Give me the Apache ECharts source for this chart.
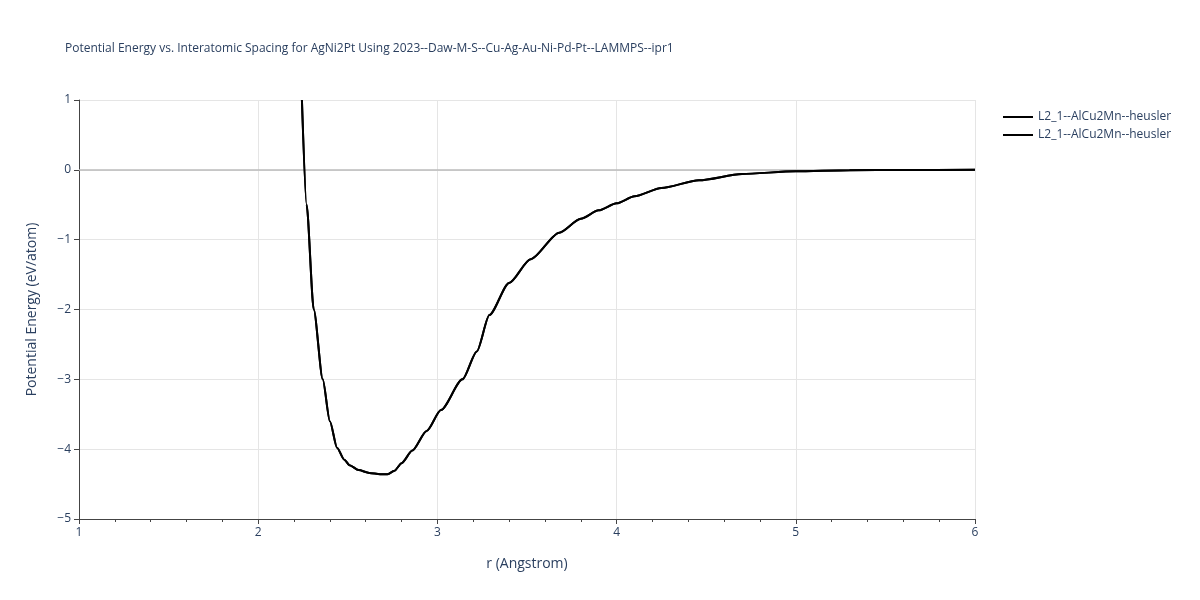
<!DOCTYPE html><html><head><meta charset="utf-8"><script src="https://cdn.jsdelivr.net/npm/echarts@6/dist/echarts.min.js"></script></head><body style="margin:0"><div id="c" style="width:1200px;height:600px"></div><script>
const rVals=[2.244,2.27,2.31,2.36,2.40,2.44,2.48,2.51,2.56,2.62,2.68,2.72,2.76,2.80,2.86,2.94,3.02,3.14,3.22,3.29,3.40,3.52,3.68,3.80,3.90,4.00,4.10,4.25,4.46,4.70,5.00,5.30,5.60,6.00];
const eVals=[1.0,-0.5,-2.0,-3.0,-3.6,-3.98,-4.15,-4.23,-4.30,-4.34,-4.36,-4.36,-4.31,-4.20,-4.02,-3.74,-3.44,-3.00,-2.60,-2.08,-1.62,-1.28,-0.90,-0.70,-0.58,-0.48,-0.38,-0.26,-0.15,-0.06,-0.02,-0.005,-0.001,0];
const seriesNames=['L2_1--AlCu2Mn--heusler','L2_1--AlCu2Mn--heusler\u200b'];
const data=rVals.map((r,i)=>[r,eVals[i]]);
const font='"Open Sans", sans-serif';
echarts.init(document.getElementById('c')).setOption({
animation:false,
title:{text:'Potential Energy vs. Interatomic Spacing for AgNi2Pt Using 2023--Daw-M-S--Cu-Ag-Au-Ni-Pd-Pt--LAMMPS--ipr1',left:60,top:38,textStyle:{fontSize:12,fontWeight:'normal',color:'#2a3f5f',fontFamily:font}},
legend:{orient:'vertical',left:998,top:106,itemWidth:30,itemGap:6,textStyle:{fontSize:12,color:'#2a3f5f',fontFamily:font},data:seriesNames.map(n=>({name:n,icon:'path://M0,0H30V2H0Z'}))},
grid:{left:79,right:225,top:100,bottom:81},
xAxis:{type:'value',min:1,max:6,interval:1,name:'r (Angstrom)',nameLocation:'middle',nameGap:38,nameTextStyle:{fontSize:14,color:'#2a3f5f',fontFamily:font},
axisLine:{onZero:false,lineStyle:{color:'#444'}},axisTick:{show:true,length:5,lineStyle:{color:'#444'}},minorTick:{show:true,splitNumber:5,length:3,lineStyle:{color:'#444'}},axisLabel:{color:'#2a3f5f',fontFamily:font},splitLine:{lineStyle:{color:'#e5e5e5'}}},
yAxis:{type:'value',min:-5,max:1,interval:1,name:'Potential Energy (eV/atom)',nameLocation:'middle',nameGap:40,nameTextStyle:{fontSize:14,color:'#2a3f5f',fontFamily:font},
axisLine:{show:true,onZero:false,lineStyle:{color:'#444'}},axisTick:{show:true,length:5,lineStyle:{color:'#444'}},axisLabel:{color:'#2a3f5f',fontFamily:font,formatter:v=>String(v).replace('-','\u2212')},splitLine:{lineStyle:{color:'#e5e5e5'}}},
series:seriesNames.map((n,k)=>({name:n,type:'line',data:data,smooth:0.25,smoothMonotone:'x',showSymbol:false,z:3,lineStyle:{color:'#000',width:2},itemStyle:{color:'#000'},
markLine:k==0?{silent:true,symbol:'none',z:1,label:{show:false},lineStyle:{color:'#bbb',type:'solid',width:1.5},data:[{yAxis:0}]}:undefined}))
});
</script></body></html>
